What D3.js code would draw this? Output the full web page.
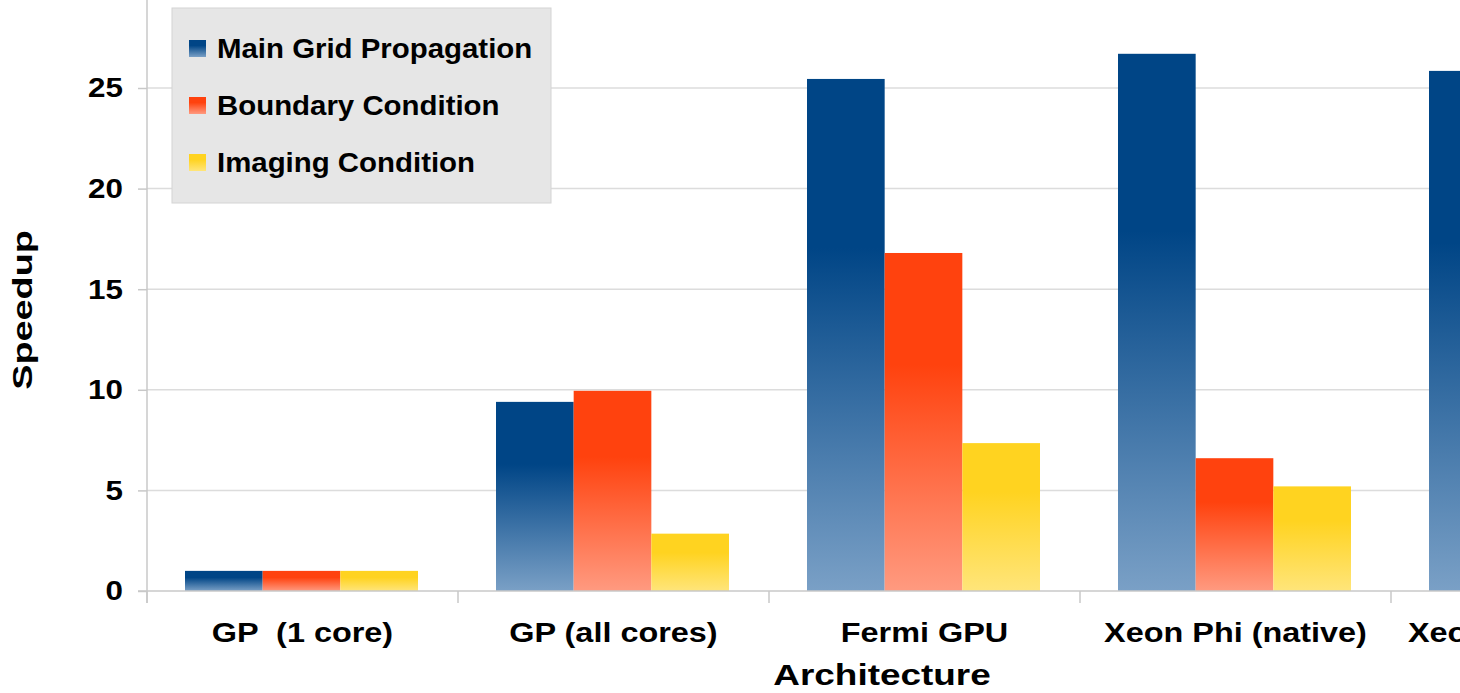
<!DOCTYPE html>
<html>
<head>
<meta charset="utf-8">
<script src="https://cdn.jsdelivr.net/npm/d3@7"></script>
<style>
  html, body { margin: 0; padding: 0; background: #fff; }
  svg { display: block; }
  text { font-family: "Liberation Sans", Arial, sans-serif; font-weight: bold; fill: #000; }
</style>
</head>
<body>
<svg id="chart" width="1460" height="693"></svg>
<script>
// data
const categories = ['GP  (1 core)', 'GP (all cores)', 'Fermi GPU', 'Xeon Phi (native)', 'Xeon Phi (offload)'];
const seriesNames = ['Main Grid Propagation', 'Boundary Condition', 'Imaging Condition'];
const mainGrid = [1.0, 9.4, 25.45, 26.7, 25.85];
const boundary = [1.0, 9.95, 16.8, 6.6, null];
const imaging = [1.0, 2.85, 7.35, 5.2, null];
const yTicks = [0, 5, 10, 15, 20, 25];

const colors = ['#004586', '#ff420e', '#ffd320'];
const lightColors = ['#7aa0c6', '#ff9a80', '#ffe57a'];

const svg = d3.select('#chart');
const values = [mainGrid, boundary, imaging];

// the source text is a little wider than Liberation Sans, stretch it
function stretch(sel, factor) {
  sel.each(function () {
    const w = this.getComputedTextLength();
    d3.select(this)
      .attr('textLength', w * factor)
      .attr('lengthAdjust', 'spacingAndGlyphs');
  });
}

// plot area runs off the right and top of the picture
const left = 147, bottom = 591;
const bandW = 311;

const x = d3.scaleBand()
  .domain(categories)
  .range([left, left + bandW * categories.length])
  .padding(0);

const xInner = d3.scaleBand()
  .domain(d3.range(3))
  .range([38, 38 + 233])
  .padding(0);

const y = d3.scaleLinear()
  .domain([0, 30])
  .range([bottom, bottom - 20.12 * 30]);

// gradients (solid at top, fading toward the bottom)
const defs = svg.append('defs');
colors.forEach((c, i) => {
  const g = defs.append('linearGradient')
    .attr('id', 'grad' + i)
    .attr('x1', 0).attr('y1', 0).attr('x2', 0).attr('y2', 1);
  g.append('stop').attr('offset', '0%').attr('stop-color', c);
  g.append('stop').attr('offset', '33%').attr('stop-color', c);
  g.append('stop').attr('offset', '100%').attr('stop-color', lightColors[i]);
});

// gridlines
svg.append('g')
  .selectAll('line')
  .data(yTicks.filter(d => d > 0))
  .enter()
  .append('line')
  .attr('x1', left).attr('x2', 1460)
  .attr('y1', d => y(d)).attr('y2', d => y(d))
  .attr('stroke', '#dcdcdc')
  .attr('stroke-width', 1.5);

// y axis
const yAxis = svg.append('g')
  .attr('transform', `translate(${left},0)`)
  .call(d3.axisLeft(y).tickValues(yTicks).tickSize(9).tickPadding(15));
yAxis.select('.domain').attr('stroke', '#c8c8c8').attr('stroke-width', 1.5)
  .attr('d', `M-0,${bottom + 12}V-20`);
yAxis.selectAll('.tick line').attr('stroke', '#c8c8c8').attr('stroke-width', 1.5);
yAxis.selectAll('.tick text')
  .style('font-size', '28px')
  .style('font-family', '"Liberation Sans", Arial, sans-serif')
  .style('font-weight', 'bold')
  .attr('fill', '#000')
  .call(stretch, 1.12);

// bars
const groups = svg.append('g')
  .selectAll('g')
  .data(categories)
  .enter()
  .append('g')
  .attr('transform', d => `translate(${x(d)},0)`);

groups.selectAll('rect')
  .data((d, ci) => values.map((s, si) => ({ si, v: s[ci] })).filter(e => e.v != null))
  .enter()
  .append('rect')
  .attr('x', d => xInner(d.si))
  .attr('width', xInner.bandwidth())
  .attr('y', d => y(d.v))
  .attr('height', d => y(0) - y(d.v))
  .attr('fill', d => `url(#grad${d.si})`);

// x axis
const xAxis = svg.append('g')
  .attr('transform', `translate(0,${bottom})`);
xAxis.append('line')
  .attr('x1', left - 9).attr('x2', 1460)
  .attr('y1', 0).attr('y2', 0)
  .attr('stroke', '#c8c8c8').attr('stroke-width', 1.5);
xAxis.selectAll('.sep')
  .data(categories)
  .enter()
  .append('line')
  .attr('x1', d => x(d)).attr('x2', d => x(d))
  .attr('y1', 0).attr('y2', 12)
  .attr('stroke', '#c8c8c8').attr('stroke-width', 1.5);
xAxis.selectAll('.lbl')
  .data(categories)
  .enter()
  .append('text')
  .attr('x', d => x(d) + x.bandwidth() / 2)
  .attr('y', 51)
  .attr('text-anchor', 'middle')
  .attr('xml:space', 'preserve')
  .style('white-space', 'pre')
  .style('font-size', '27px')
  .text(d => d)
  .call(stretch, 1.2);

// axis titles
svg.append('text')
  .attr('x', 882).attr('y', 685)
  .attr('text-anchor', 'middle')
  .style('font-size', '30px')
  .text('Architecture')
  .call(stretch, 1.23);

svg.append('text')
  .attr('transform', 'translate(32,310) rotate(-90)')
  .attr('text-anchor', 'middle')
  .style('font-size', '27px')
  .text('Speedup')
  .call(stretch, 1.4);

// legend
const legend = svg.append('g').attr('transform', 'translate(172,8)');
legend.append('rect')
  .attr('width', 379).attr('height', 195)
  .attr('fill', '#e6e6e6')
  .attr('stroke', '#d4d4d4');
seriesNames.forEach((name, i) => {
  const row = legend.append('g').attr('transform', `translate(0,${50 + i * 57})`);
  row.append('rect')
    .attr('x', 17).attr('y', -18)
    .attr('width', 17).attr('height', 17)
    .attr('fill', `url(#grad${i})`);
  row.append('text')
    .attr('x', 45).attr('y', 0)
    .style('font-size', '28px')
    .text(name)
    .call(stretch, 1.05);
});
</script>
</body>
</html>
